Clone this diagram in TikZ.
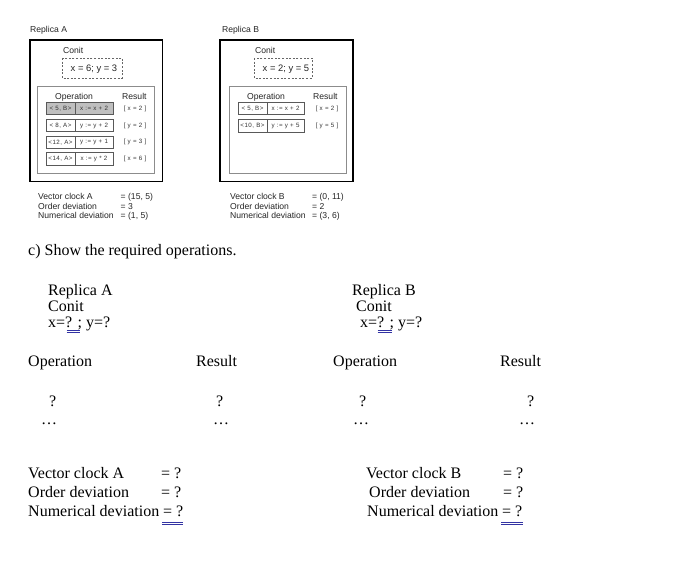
\documentclass[tikz,border=0pt]{standalone}
\usepackage{fontspec}
\setmainfont{Liberation Serif}
\newfontfamily\hv{Liberation Sans}
\newfontfamily\hvsp[LetterSpace=8]{Liberation Sans}
\begin{document}
\begin{tikzpicture}[x=1pt,y=-1pt,
  lbl/.style={anchor=base west,inner sep=0,font=\hv\fontsize{8.6}{10}\selectfont,text=black!85},
  conitval/.style={anchor=base west,inner sep=0,font=\hv\fontsize{9.4}{11}\selectfont,text=black!85},
  cellL/.style={draw=black!65,line width=0.6pt,minimum height=12.5pt,minimum width=29pt,inner sep=0,font=\hvsp\fontsize{6.2}{7}\selectfont,text=black!80},
  cellR/.style={draw=black!65,line width=0.6pt,minimum height=12.5pt,inner sep=0,font=\hvsp\fontsize{6.2}{7}\selectfont,text=black!80},
  res/.style={inner sep=0,font=\hvsp\fontsize{6.2}{7}\selectfont,text=black!80},
  outerbox/.style={draw=black,line width=1.3pt},
  innerbox/.style={draw=black!45,line width=1pt},
  conitbox/.style={draw=black!60,line width=0.8pt,dash pattern=on 2pt off 1.6pt},
  txt/.style={anchor=base west,inner sep=0,font=\fontsize{16}{19}\selectfont},
  uline/.style={draw=blue!55!black!80,line width=0.5pt}
]
\useasboundingbox (0,0) rectangle (691,572);
\fill[white] (0,0) rectangle (691,572);

% ---------- Replica A (figure) ----------
\node[lbl] (ra) at (30,32.5) {Replica A};
\draw[outerbox] (30,40) rectangle (162.5,181.5);
\node[lbl] (ca) at (63,54) {Conit};
\draw[conitbox] (62,58) rectangle (122,78);
\node[conitval] (cva) at (70.5,71.5) {x = 6; y = 3};
\draw[innerbox] (37.5,87) rectangle (154,174);
\node[lbl] (opa) at (55,100) {Operation};
\node[lbl] (rsa) at (122,100) {Result};

\node[cellL,fill=black!25] (a1l) at (60.5,108.5) {< 5, B>};
\node[cellR,fill=black!25,minimum width=38pt] (a1r) at (94,108.5) {x := x + 2};
\node[res] (a1s) at (135,108.5) {[ x = 2 ]};
\node[cellL] (a2l) at (60.5,125.5) {< 8, A>};
\node[cellR,minimum width=38pt] (a2r) at (94,125.5) {y := y + 2};
\node[res] (a2s) at (135,125.5) {[ y = 2 ]};
\node[cellL] (a3l) at (60.5,142.3) {<12, A>};
\node[cellR,minimum width=38pt] (a3r) at (94,142.3) {y := y + 1};
\node[res] (a3s) at (135,142.3) {[ y = 3 ]};
\node[cellL] (a4l) at (60.5,159) {<14, A>};
\node[cellR,minimum width=38pt] (a4r) at (94,159) {x := y * 2};
\node[res] (a4s) at (135,159) {[ x = 6 ]};

\node[lbl] (vca) at (38,199.3) {Vector clock A};
\node[lbl] (oda) at (38,209.3) {Order deviation};
\node[lbl] (nda) at (38,219) {Numerical deviation};
\node[lbl] (vcav) at (120.5,199.3) {= (15, 5)};
\node[lbl] (odav) at (120.5,209.3) {= 3};
\node[lbl] (ndav) at (120.5,219) {= (1, 5)};

% ---------- Replica B (figure) ----------
\node[lbl] (rb) at (222,32.5) {Replica B};
\draw[outerbox] (220,40) rectangle (353,181.5);
\node[lbl] (cb) at (255,54) {Conit};
\draw[conitbox] (254,58) rectangle (312,78);
\node[conitval] (cvb) at (262.5,71.5) {x = 2; y = 5};
\draw[innerbox] (229,87) rectangle (346,174);
\node[lbl] (opb) at (247,100) {Operation};
\node[lbl] (rsb) at (313,100) {Result};

\node[cellL] (b1l) at (252.5,108.5) {< 5, B>};
\node[cellR,minimum width=37pt] (b1r) at (285.5,108.5) {x := x + 2};
\node[res] (b1s) at (327,108.5) {[ x = 2 ]};
\node[cellL] (b2l) at (252.5,126) {<10, B>};
\node[cellR,minimum width=37pt] (b2r) at (285.5,126) {y := y + 5};
\node[res] (b2s) at (327,126) {[ y = 5 ]};

\node[lbl] (vcb) at (230,199.3) {Vector clock B};
\node[lbl] (odb) at (230,209.3) {Order deviation};
\node[lbl] (ndb) at (230,219) {Numerical deviation};
\node[lbl] (vcbv) at (312,199.3) {= (0, 11)};
\node[lbl] (odbv) at (312,209.3) {= 2};
\node[lbl] (ndbv) at (312,219) {= (3, 6)};

% ---------- Question ----------
\node[txt] (q) at (28,256) {c) Show the required operations.};

% left answer block
\node[txt] (qra) at (48,295) {Replica A};
\node[txt] (qca) at (48,311.7) {Conit};
\node[txt] (qxa) at (48,327.5) {x=? ; y=?};
\node[txt] (qopa) at (28,366.7) {Operation};
\node[txt] (qrsa) at (196,366.7) {Result};
\node[txt] (qq1a) at (49,406.5) {?};
\node[txt] (qd1a) at (41,424) {\dots};
\node[txt] (qq2a) at (216,406.5) {?};
\node[txt] (qd2a) at (213,424) {\dots};
\node[txt] (qvca) at (28,478.5) {Vector clock A};
\node[txt] (qoda) at (28,497) {Order deviation};
\node[txt] (qnda) at (28,516) {Numerical deviation};
\node[txt] (qvcav) at (161,478.5) {= ?};
\node[txt] (qodav) at (161,497) {= ?};
\node[txt] (qndav) at (163,516) {= ?};

% right answer block
\node[txt] (qrb) at (352,295) {Replica B};
\node[txt] (qcb) at (356,311.7) {Conit};
\node[txt] (qxb) at (360,327.5) {x=? ; y=?};
\node[txt] (qopb) at (333,366.7) {Operation};
\node[txt] (qrsb) at (500,366.7) {Result};
\node[txt] (qq1b) at (359,406.5) {?};
\node[txt] (qd1b) at (353,424) {\dots};
\node[txt] (qq2b) at (527,406.5) {?};
\node[txt] (qd2b) at (519,424) {\dots};
\node[txt] (qvcb) at (366,478.5) {Vector clock B};
\node[txt] (qodb) at (369,497) {Order deviation};
\node[txt] (qndb) at (367,516) {Numerical deviation};
\node[txt] (qvcbv) at (503,478.5) {= ?};
\node[txt] (qodbv) at (503,497) {= ?};
\node[txt] (qndbv) at (502,516) {= ?};

% blue double underlines (grammar marks)
\draw[uline] (66.5,330.6) -- (80,330.6) (66.5,332.6) -- (80,332.6);
\draw[uline] (377.5,330.6) -- (391.5,330.6) (377.5,332.6) -- (391.5,332.6);
\draw[uline] (162,522) -- (183,522) (162,524) -- (183,524);
\draw[uline] (501,522) -- (523,522) (501,524) -- (523,524);
\end{tikzpicture}
\end{document}
